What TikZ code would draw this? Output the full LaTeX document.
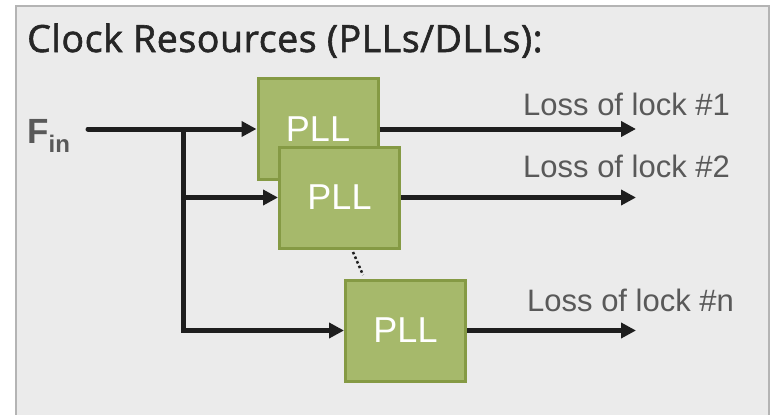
\documentclass[tikz,border=0pt]{standalone}
\usepackage{fontspec}
\setmainfont{Liberation Sans}
\newfontfamily\titlefont[FakeBold=1.6,LetterSpace=1.5]{Open Sans}
\usetikzlibrary{arrows.meta}
\definecolor{panelbg}{HTML}{EBEBEB}
\definecolor{panelln}{HTML}{B4B4B4}
\definecolor{pllfill}{HTML}{A6B96B}
\definecolor{pllline}{HTML}{859A44}
\definecolor{wire}{HTML}{1E1E1E}
\definecolor{lbl}{HTML}{595959}
\definecolor{titlec}{HTML}{262626}
\tikzset{
  pll/.style={draw=pllline, fill=pllfill, line width=3pt, inner sep=0pt,
    minimum width=120pt, minimum height=101pt, text=white,
    font=\fontsize{36}{36}\selectfont},
  wireln/.style={draw=wire, line width=5pt},
  arr/.style={wireln, -{Triangle[length=15pt,width=15pt]}},
  losslbl/.style={anchor=base west, text=lbl, inner sep=0pt,
    font=\fontsize{31}{31}\selectfont},
}
\begin{document}
\begin{tikzpicture}[x=1pt,y=-1pt]
\useasboundingbox (0,0) rectangle (777,415);
\fill[white] (0,0) rectangle (777,415);
\filldraw[fill=panelbg, draw=panelln, line width=2pt] (16,420) -- (16,6) -- (769,6) -- (769,420);
\node[anchor=base west, inner sep=0pt, text=titlec, font=\titlefont\fontsize{37.5}{37.5}\selectfont]
  (title) at (27,52) {Clock Resources (PLLs/DLLs):};
\node[anchor=base west, inner sep=0pt, text=lbl, font=\bfseries\fontsize{35}{35}\selectfont]
  (fin) at (27,143) {F\raisebox{-9pt}{\fontsize{24}{24}\selectfont in}};
% PLL boxes
\node[pll] (p1) at (318,129) {PLL};
\node[pll] (p2) at (339.5,197.5) {PLL};
\node[pll] (p3) at (405.5,330.5) {PLL};
% wiring
\coordinate (start) at (88,129);
\coordinate (j) at (183,129);
\draw[wireln, line cap=round] (start) -- (j);
\draw[arr] (j) -- (p1.west);
\draw[arr] (j |- p2.west) -- (p2.west);
\draw[arr, line join=miter] (j) |- (p3.west);
% outputs
\coordinate (o1) at (636,129);
\coordinate (o2) at (636,197.5);
\coordinate (o3) at (636,330.5);
\draw[arr] (p1.east) -- (o1);
\draw[arr] (p2.east) -- (o2);
\draw[arr] (p3.east) -- (o3);
% dotted continuation
\coordinate (d1) at (353,252);
\coordinate (d2) at (363,275);
\draw[line width=2.5pt, dash pattern=on 2.5pt off 2.5pt, wire] (d1) -- (d2);
% labels
\node[losslbl] (l1) at (523,115) {Loss of lock \#1};
\node[losslbl] (l2) at (523,177) {Loss of lock \#2};
\node[losslbl] (l3) at (527,311) {Loss of lock \#n};
\end{tikzpicture}
\end{document}
